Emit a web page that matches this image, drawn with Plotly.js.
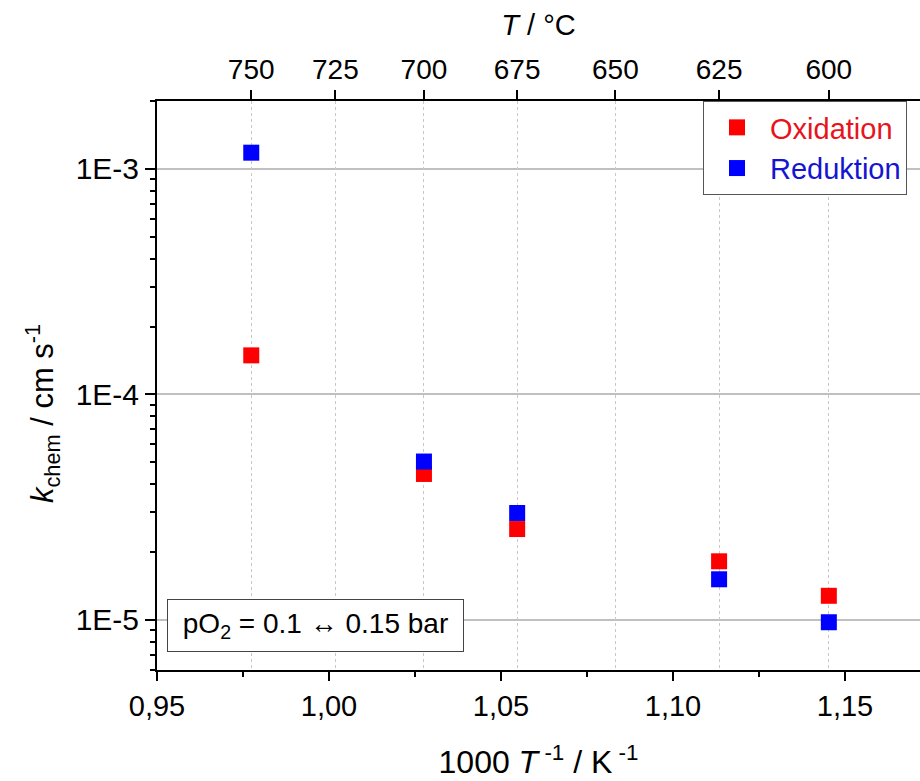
<!DOCTYPE html>
<html><head><meta charset="utf-8">
<script src="https://cdn.plot.ly/plotly-3.0.1.min.js"></script>
<style>body{margin:0;background:#fff}</style></head>
<body><div id="chart" style="width:920px;height:781px"></div>
<script>
// data
const invTemp = [0.9774, 1.0276, 1.0547, 1.1134, 1.1453];   // 1000/T in 1/K
const oxidation = [1.49e-4, 4.44e-5, 2.53e-5, 1.82e-5, 1.28e-5];
const reduktion = [1.18e-3, 5.04e-5, 2.98e-5, 1.515e-5, 9.77e-6];
const topTickTemps = [750, 725, 700, 675, 650, 625, 600];     // °C
const yTickVals = [1e-5, 1e-4, 1e-3];
const yTickText = ['1E-5', '1E-4', '1E-3'];
const yDecades = [-6, -5, -4, -3];
const yMinorMantissas = [2, 3, 4, 5, 6, 7, 8, 9];

const FONT = 'Arial, "Liberation Sans", sans-serif';
const xRange = [0.95, 1.1718];
const yRange = [Math.log10(6.0e-6), Math.log10(2.0e-3)];
const yMinorVals = [];
yDecades.forEach(d => yMinorMantissas.forEach(m => yMinorVals.push(m * Math.pow(10, d))));

const traces = [
  {x: invTemp, y: oxidation, type: 'scatter', mode: 'markers',
   name: '<span style="color:#e8141c">Oxidation</span>',
   marker: {symbol: 'square', size: 16, color: '#ff0000', line: {width: 0}}},
  {x: invTemp, y: reduktion, type: 'scatter', mode: 'markers',
   name: '<span style="color:#1414d2">Reduktion</span>',
   marker: {symbol: 'square', size: 16, color: '#0000ff', line: {width: 0}}},
  {x: [], y: [], xaxis: 'x2', yaxis: 'y', showlegend: false, hoverinfo: 'skip'}
];

const layout = {
  width: 920, height: 781,
  margin: {l: 157, r: 0, t: 101, b: 111},
  paper_bgcolor: '#fff', plot_bgcolor: '#fff',
  separators: ',.',
  font: {family: FONT, size: 29, color: '#000'},
  showlegend: true,
  legend: {x: (703 - 157) / 763, y: 1, xanchor: 'left', yanchor: 'top',
           bgcolor: '#fff', bordercolor: '#555', borderwidth: 1,
           font: {size: 29, family: FONT}, tracegroupgap: 0, itemwidth: 56},
  xaxis: {
    range: xRange, type: 'linear', dtick: 0.05, tick0: 0.95, tickformat: '.2f',
    showline: true, linecolor: '#000', linewidth: 2,
    ticks: 'outside', ticklen: 9, tickwidth: 2, tickcolor: '#000',
    showgrid: false, zeroline: false,
    minor: {dtick: 0.025, tick0: 0.95, ticks: 'outside', ticklen: 5, tickwidth: 2, tickcolor: '#000', showgrid: false},
    tickfont: {size: 29},
    title: {text: '1000 <i>T</i><sup> -1</sup> / K<sup> -1</sup>', font: {size: 32}, standoff: 30}
  },
  xaxis2: {
    overlaying: 'x', side: 'top', anchor: 'y', range: xRange,
    tickmode: 'array', tickvals: topTickTemps.map(t => 1000 / (t + 273.15)),
    ticktext: topTickTemps.map(String),
    showline: true, linecolor: '#000', linewidth: 2,
    ticks: 'outside', ticklen: 9, tickwidth: 2, tickcolor: '#000',
    showgrid: true, gridcolor: '#c8c8c8', gridwidth: 1, griddash: 'dot',
    zeroline: false, tickfont: {size: 28},
    title: {text: '<i>T</i> / °C', font: {size: 29}, standoff: 10}
  },
  yaxis: {
    type: 'log', range: yRange,
    tickmode: 'array', tickvals: yTickVals, ticktext: yTickText,
    showline: true, linecolor: '#000', linewidth: 2,
    ticks: 'outside', ticklen: 10, tickwidth: 2, tickcolor: '#000',
    showgrid: true, gridcolor: '#c0c0c0', gridwidth: 2, zeroline: false,
    minor: {tickmode: 'array', tickvals: yMinorVals, ticks: 'outside', ticklen: 5, tickwidth: 2, tickcolor: '#000', showgrid: false},
    tickfont: {size: 30}
  },
  annotations: [{
    xref: 'paper', yref: 'paper',
    x: (167 - 157) / 763, y: (670 - 652) / 569, xanchor: 'left', yanchor: 'bottom',
    text: 'pO<sub>2</sub> = 0.1 ↔ 0.15 bar', showarrow: false,
    font: {size: 28, family: FONT}, bgcolor: '#fff', bordercolor: '#444', borderwidth: 1,
    borderpad: 0, width: 295, height: 51, align: 'center'
  }, {
    xref: 'paper', yref: 'paper',
    x: (42 - 157) / 763, y: (670 - 414) / 569, xanchor: 'center', yanchor: 'middle',
    text: '<i>k</i><sub>chem</sub> / cm s<sup>-1</sup>', showarrow: false, textangle: -90,
    font: {size: 31, family: FONT}
  }]
};

Plotly.newPlot('chart', traces, layout, {displayModeBar: false, staticPlot: true});
</script></body></html>
